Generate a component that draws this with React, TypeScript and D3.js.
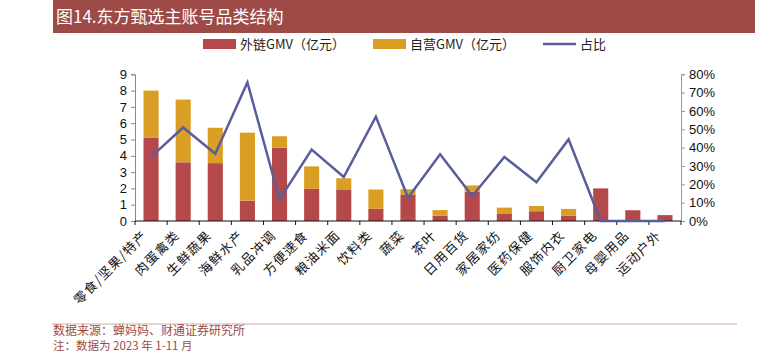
import React, { useEffect, useRef } from "react";
import * as d3 from "d3";

const categories = [
  "零食/坚果/特产", "肉蛋禽类", "生鲜蔬果", "海鲜水产", "乳品冲调", "方便速食",
  "粮油米面", "饮料类", "蔬菜", "茶叶", "日用百货", "家居家纺", "医药保健",
  "服饰内衣", "厨卫家电", "母婴用品", "运动户外",
];
const externalGmv = [5.1, 3.6, 3.55, 1.25, 4.5, 1.97, 1.9, 0.75, 1.6, 0.33, 1.8, 0.43, 0.6, 0.33, 2.0, 0.66, 0.36];
const selfGmv = [2.9, 3.85, 2.17, 4.17, 0.7, 1.38, 0.72, 1.18, 0.35, 0.34, 0.38, 0.39, 0.32, 0.41, 0, 0, 0];
const share = [0.35, 0.51, 0.367, 0.756, 0.118, 0.389, 0.24, 0.569, 0.127, 0.364, 0.136, 0.349, 0.211, 0.445, 0, 0, 0];
const leftTicks = [0, 1, 2, 3, 4, 5, 6, 7, 8, 9];
const rightTicks = [0, 0.1, 0.2, 0.3, 0.4, 0.5, 0.6, 0.7, 0.8];

const RED = "#b4484a";
const YELLOW = "#da9e25";
const LINE = "#575e9b";
const TITLE_BG = "#9e4a46";
const CJK = "'Noto Sans CJK SC', sans-serif";
const NUM = "'Liberation Sans', Arial, sans-serif";

const W = 766;
const H = 352;
const m = { left: 135, right: 681, top: 74.3, bottom: 221 };

const App = () => {
  const ref = useRef<SVGSVGElement | null>(null);

  useEffect(() => {
    if (!ref.current) return;
    const svg = d3.select(ref.current);
    svg.selectAll("*").remove();

    // title bar
    svg.append("rect").attr("x", 53).attr("y", 0).attr("width", 702).attr("height", 33).attr("fill", TITLE_BG);
    svg.append("text").attr("x", 56).attr("y", 23).attr("fill", "#fff")
      .style("font-family", CJK).style("font-size", "17px").text("图14.东方甄选主账号品类结构");

    // legend
    const legend = [
      { x: 203, label: "外链GMV（亿元）", kind: "rect", color: RED },
      { x: 373, label: "自营GMV（亿元）", kind: "rect", color: YELLOW },
      { x: 543, label: "占比", kind: "line", color: LINE },
    ];
    legend.forEach(d => {
      if (d.kind === "rect") {
        svg.append("rect").attr("x", d.x).attr("y", 39).attr("width", 33).attr("height", 10).attr("fill", d.color);
      } else {
        svg.append("line").attr("x1", d.x).attr("x2", d.x + 33).attr("y1", 44).attr("y2", 44)
          .attr("stroke", d.color).attr("stroke-width", 2.5);
      }
      svg.append("text").attr("x", d.x + 37).attr("y", 49).attr("fill", "#222")
        .style("font-family", CJK).style("font-size", "13px").text(d.label);
    });

    const x = d3.scaleBand<string>().domain(categories).range([m.left, m.right]).paddingInner(0.53).paddingOuter(0.265);
    const xTicks = d3.scaleBand<string>().domain(categories).range([m.left, m.right]);
    const y = d3.scaleLinear().domain([0, 9]).range([m.bottom, m.top]);
    const y2 = d3.scaleLinear().domain([0, 0.8]).range([m.bottom, m.top]);

    // bars
    const g = svg.append("g");
    categories.forEach((c, i) => {
      const x0 = x(c)!;
      g.append("rect").attr("x", x0).attr("width", x.bandwidth())
        .attr("y", y(externalGmv[i])).attr("height", y(0) - y(externalGmv[i])).attr("fill", RED);
      if (selfGmv[i] > 0) {
        const top = externalGmv[i] + selfGmv[i];
        g.append("rect").attr("x", x0).attr("width", x.bandwidth())
          .attr("y", y(top)).attr("height", y(externalGmv[i]) - y(top)).attr("fill", YELLOW);
      }
    });

    // left axis
    const left = svg.append("g").attr("transform", `translate(${m.left},0)`)
      .call(d3.axisLeft(y).tickValues(leftTicks).tickSize(4).tickPadding(4));
    left.select(".domain").attr("stroke", "#888");
    left.selectAll(".tick line").attr("stroke", "#888");
    left.selectAll("text").style("font-family", NUM).style("font-size", "13px").attr("fill", "#111");

    // right axis
    const right = svg.append("g").attr("transform", `translate(${m.right},0)`)
      .call(d3.axisRight(y2).tickValues(rightTicks).tickFormat(d3.format(".0%")).tickSize(4).tickPadding(4));
    right.select(".domain").attr("stroke", "#999");
    right.selectAll(".tick line").attr("stroke", "#999");
    right.selectAll("text").style("font-family", NUM).style("font-size", "13px").attr("fill", "#111");

    // bottom axis
    const bottom = svg.append("g").attr("transform", `translate(0,${m.bottom})`);
    bottom.append("line").attr("x1", m.left).attr("x2", m.right).attr("stroke", "#111").attr("stroke-width", 1);
    const bounds = categories.map(c => xTicks(c)!).concat([m.right]);
    bounds.forEach(b => {
      bottom.append("line").attr("x1", b).attr("x2", b).attr("y1", 0).attr("y2", 4).attr("stroke", "#111");
    });
    categories.forEach(c => {
      const cx = xTicks(c)! + xTicks.bandwidth() / 2;
      bottom.append("text")
        .attr("transform", `translate(${cx - 6},${12}) rotate(-45)`)
        .attr("text-anchor", "end").attr("dy", "0.35em").attr("fill", "#111")
        .style("letter-spacing", "1.2px")
        .style("font-family", CJK).style("font-size", "13px").text(c);
    });

    // share line
    const line = d3.line<number>()
      .x((_, i) => xTicks(categories[i])! + xTicks.bandwidth() / 2)
      .y(d => y2(d));
    svg.append("path").datum(share).attr("d", line).attr("fill", "none")
      .attr("stroke", LINE).attr("stroke-width", 2.5).attr("stroke-linejoin", "miter");

    // footer
    svg.append("line").attr("x1", 52).attr("x2", 737).attr("y1", 324).attr("y2", 324).attr("stroke", "#dcaaaa");
    svg.append("text").attr("x", 53).attr("y", 335).attr("fill", TITLE_BG)
      .style("font-family", CJK).style("font-size", "12px").text("数据来源：蝉妈妈、财通证券研究所");
    svg.append("text").attr("x", 53).attr("y", 350).attr("fill", TITLE_BG)
      .style("font-family", CJK).style("font-size", "11.5px").text("注：数据为 2023 年 1-11 月");
  }, []);

  return (
    <svg ref={ref} width={W} height={H}
      style={{ position: "absolute", left: 0, top: 0, background: "#fff" }} />
  );
};

export default App;
